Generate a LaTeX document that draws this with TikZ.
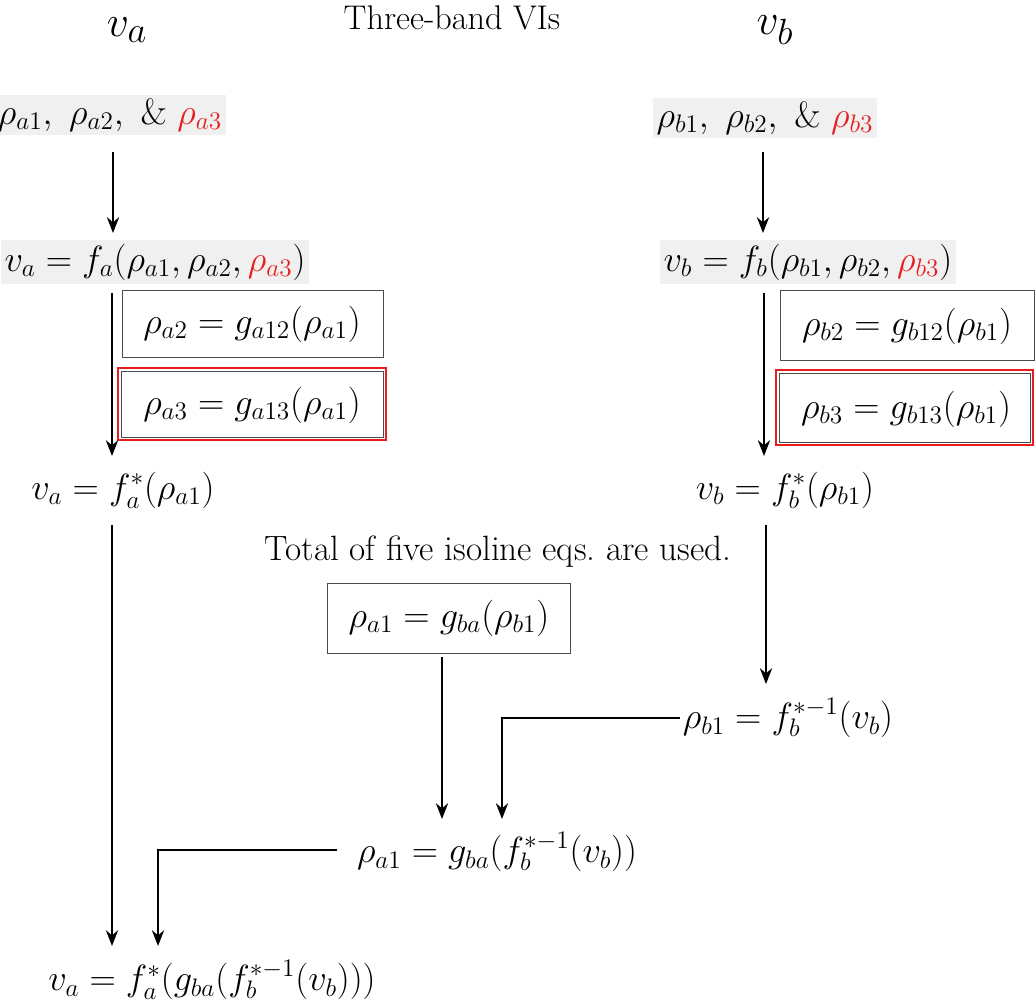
\documentclass[tikz,border=0pt]{standalone}
\usetikzlibrary{arrows.meta}
\begin{document}
\begin{tikzpicture}[x=0.02cm,y=-0.02cm,
  every node/.style={font=\fontsize{20}{24}\selectfont, inner sep=2pt},
  hl/.style={fill=gray!12},
  arr/.style={-{Stealth[length=9pt,width=7pt]}, line width=1pt}]
\useasboundingbox (0,0) rectangle (1036,1000);
\definecolor{rd}{RGB}{230,30,30}
% headers
\node[font=\fontsize{30}{34}\selectfont] (ha) at (127,30) {$v_a$};
\node[font=\fontsize{19.5}{22}\selectfont] (title) at (452,18) {Three-band VIs};
\node[font=\fontsize{30}{34}\selectfont] (hb) at (775,30) {$v_b$};
% left column
\node[hl] (ra) at (110,115) {$\rho_{a1},\ \rho_{a2},\ \&\ \textcolor{rd}{\rho_{a3}}$};
\node[hl] (fa) at (155,262) {$v_a=f_a(\rho_{a1},\rho_{a2},\textcolor{rd}{\rho_{a3}})$};
\draw[draw=black!70] (122,290) rectangle (383,357);
\node (ga12) at (252,324) {$\rho_{a2}=g_{a12}(\rho_{a1})$};
\draw[draw=rd, line width=1pt] (118,368) rectangle (386,440);
\draw[draw=black!70] (121,371) rectangle (383,437);
\node (ga13) at (252,405) {$\rho_{a3}=g_{a13}(\rho_{a1})$};
\node (fas) at (123,490) {$v_a=f_a^*(\rho_{a1})$};
\coordinate (a1) at (113,152); \coordinate (a2) at (113,233);
\draw[arr] (a1) -- (a2);
\coordinate (a3) at (112,293); \coordinate (a4) at (112,456);
\draw[arr] (a3) -- (a4);
% right column
\node[hl] (rb) at (765,118) {$\rho_{b1},\ \rho_{b2},\ \&\ \textcolor{rd}{\rho_{b3}}$};
\node[hl] (fb) at (808,262) {$v_b=f_b(\rho_{b1},\rho_{b2},\textcolor{rd}{\rho_{b3}})$};
\draw[draw=black!70] (780,290) rectangle (1034,360);
\node (gb12) at (907,326) {$\rho_{b2}=g_{b12}(\rho_{b1})$};
\draw[draw=rd, line width=1pt] (776,370) rectangle (1033,445);
\draw[draw=black!70] (779,373) rectangle (1030,442);
\node (gb13) at (906,409) {$\rho_{b3}=g_{b13}(\rho_{b1})$};
\node (fbs) at (785,490) {$v_b=f_b^*(\rho_{b1})$};
\coordinate (b1) at (763,152); \coordinate (b2) at (763,233);
\draw[arr] (b1) -- (b2);
\coordinate (b3) at (764,293); \coordinate (b4) at (764,456);
\draw[arr] (b3) -- (b4);
% middle
\node[font=\fontsize{20}{24}\selectfont] (tot) at (498,552) {Total of five isoline eqs.\ are used.};
\node[draw=black!70, minimum width=243*0.02cm, minimum height=70*0.02cm] (gba) at (449,618) {$\rho_{a1}=g_{ba}(\rho_{b1})$};
\node (finv) at (788,718) {$\rho_{b1}=f_b^{*-1}(v_b)$};
\node (comb) at (497,852) {$\rho_{a1}=g_{ba}(f_b^{*-1}(v_b))$};
\node (final) at (212,980) {$v_a=f_a^*(g_{ba}(f_b^{*-1}(v_b)))$};
\coordinate (c1) at (766,525); \coordinate (c2) at (766,684);
\draw[arr] (c1) -- (c2);
\coordinate (d1) at (442,657); \coordinate (d2) at (442,819);
\draw[arr] (d1) -- (d2);
\coordinate (e1) at (680,718); \coordinate (e2) at (502,718); \coordinate (e3) at (502,819);
\draw[arr] (e1) -- (e2) -- (e3);
\coordinate (f1) at (337,850); \coordinate (f2) at (158,850); \coordinate (f3) at (158,946);
\draw[arr] (f1) -- (f2) -- (f3);
\coordinate (g1) at (112,525); \coordinate (g2) at (112,946);
\draw[arr] (g1) -- (g2);
\end{tikzpicture}
\end{document}
